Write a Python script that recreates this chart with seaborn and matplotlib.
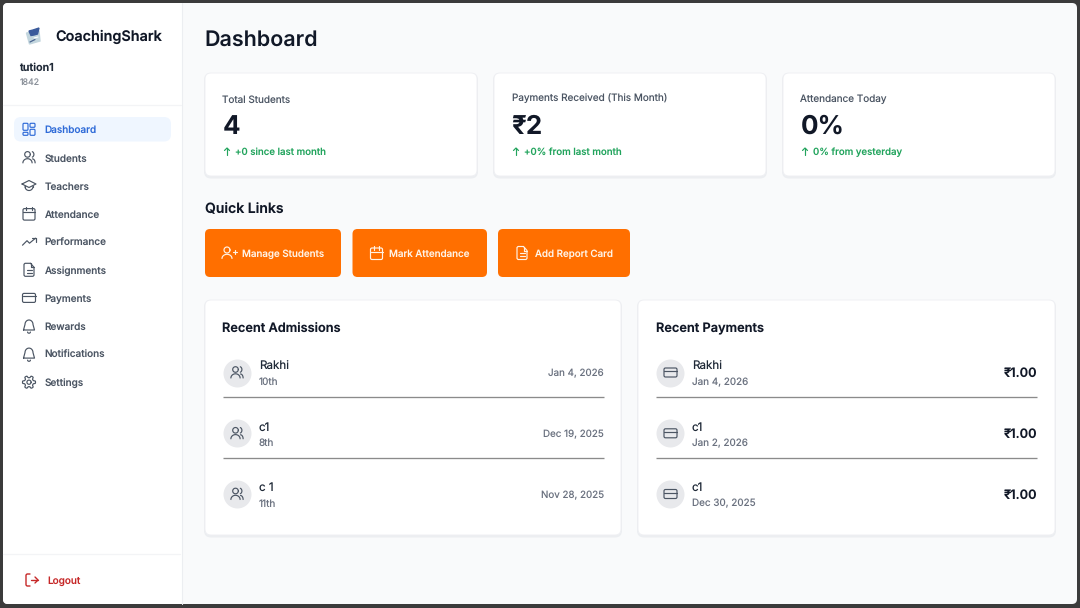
import numpy as np
import matplotlib
matplotlib.use("Agg")
import matplotlib.pyplot as plt
from matplotlib.patches import FancyBboxPatch, Rectangle
import seaborn as sns

# Data -----------------------------------------------------------------------
brand = "CoachingShark"
user_name = "tution1"
user_code = "1842"
page_title = "Dashboard"
nav_labels = ["Dashboard", "Students", "Teachers", "Attendance", "Performance",
              "Assignments", "Payments", "Rewards", "Notifications", "Settings"]
nav_icons = ["grid", "users", "cap", "calendar", "trend",
             "doc", "card", "bell", "bell", "gear"]
card_labels = ["Total Students", "Payments Received (This Month)", "Attendance Today"]
card_values = ["4", "₹2", "0%"]
card_deltas = ["+0 since last month", "+0% from last month", "0% from yesterday"]
button_labels = ["Manage Students", "Mark Attendance", "Add Report Card"]
button_icons = ["userplus", "calendar", "doc"]
admission_names = ["Rakhi", "c1", "c 1"]
admission_classes = ["10th", "8th", "11th"]
admission_dates = ["Jan 4, 2026", "Dec 19, 2025", "Nov 28, 2025"]
payment_names = ["Rakhi", "c1", "c1"]
payment_dates = ["Jan 4, 2026", "Jan 2, 2026", "Dec 30, 2025"]
payment_amounts = ["₹1.00", "₹1.00", "₹1.00"]

# Colours
INK = "#111827"
GREY = "#4B5563"
SOFT = "#6B7280"
BLUE = "#2F6BD8"
GREEN = "#22A45D"
ORANGE = "#FF6F00"
RED = "#C62828"

sns.set_theme(style="white")
plt.rcParams["font.family"] = ["Inter", "Noto Sans", "DejaVu Sans"]
plt.rcParams["text.hinting"] = "none"
plt.rcParams["text.hinting_factor"] = 1

fig = plt.figure(figsize=(10.8, 6.08), dpi=100, facecolor="#3B3B3B")
ax = fig.add_axes([0, 0, 1, 1])
ax.set_xlim(0, 1080)
ax.set_ylim(608, 0)
ax.axis("off")


def txt(x, y, s, px, color=INK, weight="normal", ha="left"):
    # y is the baseline, px the font size in picture pixels
    ax.text(x, y, s, fontsize=px * 0.72, color=color, fontweight=weight,
            ha=ha, va="baseline", zorder=6)


def box(x0, y0, x1, y1, r, fc, ec="none", lw=0, z=2):
    ax.add_patch(FancyBboxPatch((x0 + r, y0 + r), x1 - x0 - 2 * r, y1 - y0 - 2 * r,
                                boxstyle=f"round,pad={r},rounding_size={r}",
                                fc=fc, ec=ec, lw=lw, zorder=z))


def card(x0, y0, x1, y1):
    box(x0 - 1, y0, x1 + 1, y1 + 2.5, 7, "#ECEEF1", z=2)
    box(x0, y0, x1, y1, 6, "#FFFFFF", ec="#EFF0F3", lw=0.7, z=3)


def stroke(xs, ys, color, lw=0.85):
    ax.plot(xs, ys, color=color, lw=lw, solid_capstyle="round",
            solid_joinstyle="round", zorder=7)


def arc(cx, cy, rx, ry, a0, a1):
    t = np.radians(np.linspace(a0, a1, 24))
    return cx + rx * np.cos(t), cy + ry * np.sin(t)


def outline(cx, cy, x0, y0, x1, y1, r, color, lw=0.85):
    ax.add_patch(FancyBboxPatch((cx + x0 + r, cy + y0 + r), x1 - x0 - 2 * r, y1 - y0 - 2 * r,
                                boxstyle=f"round,pad={r},rounding_size={r}",
                                fc="none", ec=color, lw=lw, zorder=7))


def icon(name, cx, cy, color):
    if name == "grid":
        outline(cx, cy, -6, -6, -1, 1, 1, color)
        outline(cx, cy, 1, -6, 6, -2, 1, color)
        outline(cx, cy, 1, 0, 6, 6, 1, color)
        outline(cx, cy, -6, 3, -1, 6, 1, color)
    elif name == "users":
        stroke(*arc(cx - 1.5, cy - 3, 2.8, 2.8, 0, 360), color)
        stroke(*arc(cx - 1.5, cy + 5.5, 4.6, 4.2, 180, 360), color)
        stroke(*arc(cx + 2.5, cy - 3, 2.4, 2.9, -70, 70), color)
        stroke(*arc(cx + 3.5, cy + 5.5, 2.6, 4, 270, 360), color)
    elif name == "userplus":
        stroke(*arc(cx - 2, cy - 3, 3, 3, 0, 360), color)
        stroke(*arc(cx - 2, cy + 5.5, 5, 4.2, 180, 360), color)
        stroke([cx + 3.5, cx + 7.5], [cy - 1, cy - 1], color)
        stroke([cx + 5.5, cx + 5.5], [cy - 3, cy + 1], color)
    elif name == "cap":
        stroke([cx - 7, cx, cx + 7, cx, cx - 7], [cy - 1.5, cy - 5, cy - 1.5, cy + 2, cy - 1.5], color)
        stroke(*arc(cx, cy + 1, 4, 4, 0, 180), color)
        stroke([cx - 4, cx - 4], [cy, cy + 1], color)
        stroke([cx + 4, cx + 4], [cy, cy + 1], color)
    elif name == "calendar":
        outline(cx, cy, -6, -5, 6, 6.5, 1.5, color)
        stroke([cx - 6, cx + 6], [cy - 1.5, cy - 1.5], color)
        stroke([cx - 2.8, cx - 2.8], [cy - 6.8, cy - 3.5], color)
        stroke([cx + 2.8, cx + 2.8], [cy - 6.8, cy - 3.5], color)
    elif name == "trend":
        stroke([cx - 6.5, cx - 2, cx + 0.5, cx + 6.5], [cy + 3.5, cy - 1, cy + 1.5, cy - 3.5], color)
        stroke([cx + 3, cx + 6.5, cx + 6.5], [cy - 3.5, cy - 3.5, cy], color)
    elif name == "doc":
        stroke([cx + 1.5, cx - 4, cx - 5, cx - 5, cx - 4, cx + 4, cx + 5, cx + 5, cx + 1.5],
               [cy - 6.5, cy - 6.5, cy - 5.5, cy + 5.5, cy + 6.5, cy + 6.5, cy + 5.5, cy - 2.5, cy - 6.5], color)
        stroke([cx + 1.5, cx + 1.5, cx + 5], [cy - 6.5, cy - 2.5, cy - 2.5], color)
        stroke([cx - 2.5, cx + 2.5], [cy, cy], color)
        stroke([cx - 2.5, cx + 2.5], [cy + 3, cy + 3], color)
    elif name == "card":
        outline(cx, cy, -6.5, -4.5, 6.5, 4.5, 1.5, color)
        stroke([cx - 6.5, cx + 6.5], [cy - 1.5, cy - 1.5], color)
    elif name == "bell":
        xs, ys = arc(cx, cy - 1.5, 4, 4.5, 180, 360)
        stroke(np.r_[cx - 5.5, xs, cx + 5.5, cx - 5.5], np.r_[cy + 4, ys, cy + 4, cy + 4], color)
        stroke(*arc(cx, cy + 6, 1.4, 1.2, 0, 180), color)
    elif name == "gear":
        t = np.radians(np.arange(0, 361, 4))
        r = 5.5 + 1.0 * np.tanh(3 * np.cos(6 * t))
        stroke(cx + r * np.cos(t), cy + r * np.sin(t), color)
        stroke(*arc(cx, cy, 2.1, 2.1, 0, 360), color)
    elif name == "logout":
        stroke([cx - 2, cx - 5, cx - 6, cx - 6, cx - 5, cx - 2],
               [cy - 6, cy - 6, cy - 5, cy + 5, cy + 6, cy + 6], color, 1.0)
        stroke([cx - 1.5, cx + 6], [cy, cy], color, 1.0)
        stroke([cx + 3, cx + 6, cx + 3], [cy - 3, cy, cy + 3], color, 1.0)


# Page -----------------------------------------------------------------------
box(3, 3, 1077, 604, 5, "#F9FAFB", z=1)
box(3, 3, 182, 604, 5, "#FFFFFF", z=1.5)
ax.add_patch(Rectangle((170, 3), 12, 601, fc="#FFFFFF", ec="none", zorder=1.5))
ax.plot([182, 182], [3, 604], color="#ECEEF1", lw=0.8, zorder=1.6)
ax.plot([3, 181], [105, 105], color="#F3F4F6", lw=0.9, zorder=2)
ax.plot([3, 180], [554, 554], color="#F3F4F6", lw=0.9, zorder=2)

# logo
ax.fill([26.5, 39, 40, 29.5], [33, 31, 41, 44], color="#C3D6DE", zorder=4)
ax.fill([29, 33, 39, 37.5, 34, 31], [31, 30, 28, 34, 35, 35.5], color="#3A5A9B", zorder=5)
ax.plot([34, 38], [38, 37], color="#FFFFFF", lw=0.8, zorder=6)
ax.plot([30, 35], [42, 39.5], color="#4A6490", lw=0.9, zorder=6)

txt(55.6, 41, brand, 14.4, weight="semibold")
txt(19, 71, user_name, 10.8, color="#1F2937", weight="semibold")
txt(19.6, 85, user_code, 8.8, color="#8A9099")

box(14, 117, 171, 141.5, 7, "#EFF6FF")
for i, (label, ic) in enumerate(zip(nav_labels, nav_icons)):
    y = 129.3 + i * 28.1
    col = BLUE if i == 0 else GREY
    icon(ic, 29, y, col)
    txt(44.6, y + 4, label, 10, color=col, weight="medium")

icon("logout", 32, 580, RED)
txt(47.6, 584, "Logout", 10, color=RED, weight="medium")

txt(204.6, 46, page_title, 21.5, weight="semibold")

# Stat cards -----------------------------------------------------------------
card_x = [(205, 477), (494, 766), (783, 1055)]
for (x0, x1), label, value, delta in zip(card_x, card_labels, card_values, card_deltas):
    card(x0, 73, x1, 176)
    txt(x0 + 17.5, 102.4, label, 9.95, color=GREY)
    txt(x0 + 17.5, 134, value, 26, weight="bold")
    stroke([x0 + 22, x0 + 22], [148, 155], GREEN)
    stroke([x0 + 19.5, x0 + 22, x0 + 24.5], [150.5, 148, 150.5], GREEN)
    txt(x0 + 30, 155.2, delta, 9.7, color=GREEN, weight="medium")

# Quick links ----------------------------------------------------------------
txt(205, 213, "Quick Links", 14, weight="semibold")
button_x = [(205, 341), (352.5, 487), (498, 630)]
for (x0, x1), label, ic in zip(button_x, button_labels, button_icons):
    box(x0, 229, x1, 277, 5, ORANGE)
    icon(ic, x0 + 24, 253, "#FFF3E6")
    txt(x0 + 36.6, 257, label, 9.8, color="#FFF3E6", weight="medium")

# Lists ----------------------------------------------------------------------
row_y = [372.5, 433.3, 494]
card(205, 300, 621, 535)
card(638, 300, 1055, 535)
txt(222.5, 332, "Recent Admissions", 12.8, weight="semibold")
txt(655.5, 332, "Recent Payments", 12.8, weight="semibold")

# avatars go through seaborn's scatter
avatar_x = [236.6] * 3 + [669.6] * 3
avatar_y = row_y + row_y
sns.scatterplot(x=avatar_x, y=avatar_y, s=406, color="#E8E9EC", linewidth=0, ax=ax,
                legend=False, zorder=5)
ax.set_xlim(0, 1080)
ax.set_ylim(608, 0)
ax.axis("off")

for i, y in enumerate(row_y):
    icon("users", 237, y, GREY)
    txt(259, y - 2.7, admission_names[i], 11.6, color="#1F2937")
    txt(259, y + 12.5, admission_classes[i], 10, color=SOFT)
    txt(604, y + 3.8, admission_dates[i], 9.8, color=SOFT, ha="right")
    icon("card", 670.5, y, GREY)
    txt(692, y - 2.7, payment_names[i], 11.6, color="#1F2937")
    txt(692, y + 12.5, payment_dates[i], 9.9, color=SOFT)
    txt(1037.5, y + 4.6, payment_amounts[i], 12.8, weight="semibold", ha="right")
    if i < 2:
        for x0, x1 in [(222.5, 603.5), (655.5, 1037)]:
            ax.plot([x0, x1], [y + 24.7, y + 24.7], color="#8B8B8B", lw=0.95,
                    solid_capstyle="butt", zorder=5)

fig.savefig("out.png", dpi=100, facecolor=fig.get_facecolor())
